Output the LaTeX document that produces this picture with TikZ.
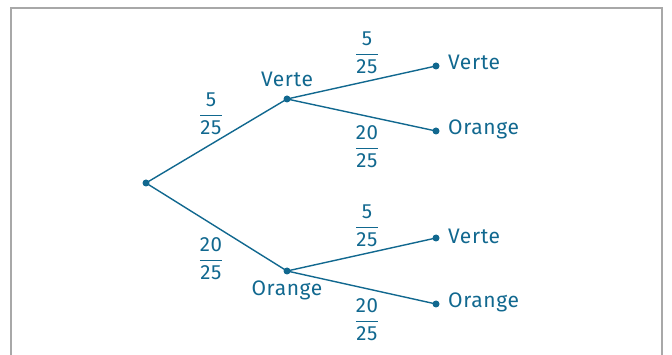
\documentclass[tikz,border=0pt]{standalone}
\usepackage{amsmath}
\usepackage{fontspec}
\setmainfont{Fira Sans}[LetterSpace=3]
\definecolor{treeblue}{HTML}{11688F}
\definecolor{framegray}{HTML}{A8A8A8}
\newcommand{\probfrac}[2]{$\genfrac{}{}{1.3pt}{0}{\mbox{#1}}{\mbox{#2}}$}
\begin{document}
\begin{tikzpicture}[x=1pt,y=-1pt,
  dot/.style={circle,fill=treeblue,inner sep=0pt,minimum size=7pt},
  branch/.style={draw=treeblue,line width=1.4pt},
  lbl/.style={text=treeblue,font=\fontsize{21}{25}\selectfont,inner sep=0pt},
  prob/.style={text=treeblue,font=\fontsize{20.5}{24}\selectfont,inner sep=0pt}]
\useasboundingbox (0,0) rectangle (672,355);
\begin{scope}
\clip (0,0) rectangle (672,355);
\draw[framegray,line width=2pt] (11,8) rectangle (662,370);
\end{scope}
% vertices of the tree
\node[dot] (r) at (146,183) {};
\node[dot] (v) at (287,99) {};
\node[dot] (o) at (287,271) {};
\node[dot] (vv) at (436,66) {};
\node[dot] (vo) at (436,131) {};
\node[dot] (ov) at (436,238) {};
\node[dot] (oo) at (436,304) {};
% branches
\draw[branch] (r.center) -- (v.center);
\draw[branch] (r.center) -- (o.center);
\draw[branch] (v.center) -- (vv.center);
\draw[branch] (v.center) -- (vo.center);
\draw[branch] (o.center) -- (ov.center);
\draw[branch] (o.center) -- (oo.center);
% outcome labels
\node[lbl] (tv) at (287,79) {Verte};
\node[lbl] (to) at (287,290) {Orange};
\node[lbl,anchor=west] (tvv) at (448,62) {Verte};
\node[lbl,anchor=west] (tvo) at (448,129) {Orange};
\node[lbl,anchor=west] (tov) at (448,236) {Verte};
\node[lbl,anchor=west] (too) at (448,302) {Orange};
% probabilities
\node[prob] (p1) at (211,114) {\probfrac{5}{25}};
\node[prob] (p2) at (211,259) {\probfrac{20}{25}};
\node[prob] (p3) at (367,53) {\probfrac{5}{25}};
\node[prob] (p4) at (367,147) {\probfrac{20}{25}};
\node[prob] (p5) at (367,226) {\probfrac{5}{25}};
\node[prob] (p6) at (367,320) {\probfrac{20}{25}};
\end{tikzpicture}
\end{document}
